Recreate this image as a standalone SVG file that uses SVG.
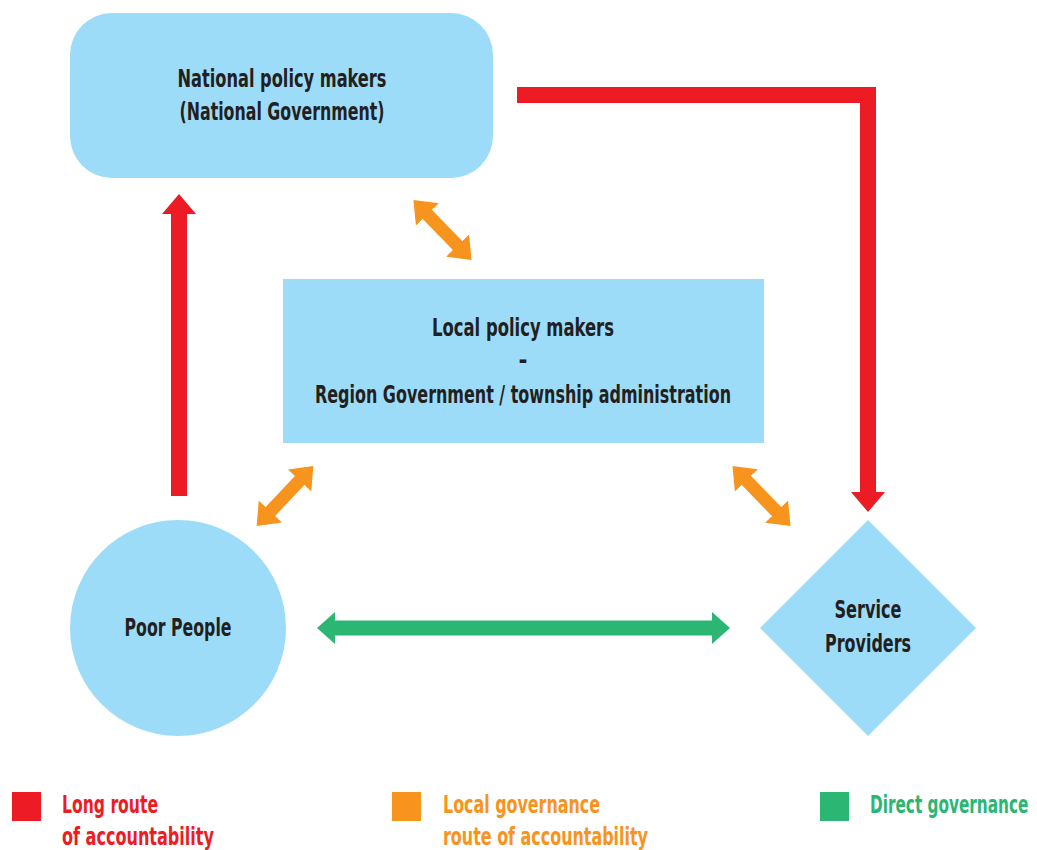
<svg xmlns="http://www.w3.org/2000/svg" width="1037" height="850" viewBox="0 0 1037 850">
<style>
.node{fill:#9ddcf8}
.t{font-family:"DejaVu Sans Condensed","DejaVu Sans","Liberation Sans",sans-serif;font-stretch:condensed;font-weight:bold;font-size:24px;fill:#231f20}
.lg{font-family:"DejaVu Sans Condensed","DejaVu Sans","Liberation Sans",sans-serif;font-stretch:condensed;font-weight:bold;font-size:25px}
.red{stroke:#ed1c24;fill:none}
.org{stroke:#f7941d;fill:none}
.grn{stroke:#2bb673;fill:none}
</style>
<defs>
<marker id="hr" markerUnits="userSpaceOnUse" viewBox="0 0 20 34" refX="2" refY="17" markerWidth="20" markerHeight="34" orient="auto-start-reverse"><path d="M0,0 L20,17 L0,34 Z" fill="#ed1c24"/></marker>
<marker id="ho" markerUnits="userSpaceOnUse" viewBox="0 0 20 32" refX="2" refY="16" markerWidth="20" markerHeight="32" orient="auto-start-reverse"><path d="M0,0 L20,16 L0,32 Z" fill="#f7941d"/></marker>
<marker id="hg" markerUnits="userSpaceOnUse" viewBox="0 0 18 32" refX="2" refY="16" markerWidth="18" markerHeight="32" orient="auto-start-reverse"><path d="M0,0 L18,16 L0,32 Z" fill="#2bb673"/></marker>
</defs>
<g id="national">
<rect class="node" x="70" y="13" width="423" height="165" rx="42"/>
<text class="t" x="282" y="87" text-anchor="middle" textLength="209" lengthAdjust="spacingAndGlyphs">National policy makers</text>
<text class="t" x="282" y="120" text-anchor="middle" textLength="205" lengthAdjust="spacingAndGlyphs">(National Government)</text>
</g>
<g id="local">
<rect class="node" x="283" y="279" width="481" height="164"/>
<text class="t" x="523" y="336" text-anchor="middle" textLength="182" lengthAdjust="spacingAndGlyphs">Local policy makers</text>
<text class="t" x="523" y="368" text-anchor="middle">-</text>
<text class="t" x="523" y="403" text-anchor="middle" textLength="416" lengthAdjust="spacingAndGlyphs">Region Government / township administration</text>
</g>
<g id="poor">
<circle class="node" cx="178" cy="628" r="108"/>
<text class="t" x="178" y="636" text-anchor="middle" textLength="107" lengthAdjust="spacingAndGlyphs">Poor People</text>
</g>
<g id="service">
<polygon class="node" points="868,520 976,628 868,736 760,628"/>
<text class="t" x="868" y="618" text-anchor="middle" textLength="67" lengthAdjust="spacingAndGlyphs">Service</text>
<text class="t" x="868" y="652" text-anchor="middle" textLength="86" lengthAdjust="spacingAndGlyphs">Providers</text>
</g>
<g id="connectors">
<line class="red" x1="179" y1="496" x2="179" y2="212" stroke-width="16" marker-end="url(#hr)"/>
<polyline class="red" points="517,95 868,95 868,494" stroke-width="16" stroke-linejoin="miter" marker-end="url(#hr)"/>
<line class="grn" x1="333" y1="628" x2="714" y2="628" stroke-width="15" marker-start="url(#hg)" marker-end="url(#hg)"/>
<line class="org" x1="426" y1="213" x2="459" y2="247" stroke-width="13" marker-start="url(#ho)" marker-end="url(#ho)"/>
<line class="org" x1="269" y1="513" x2="301" y2="479" stroke-width="13" marker-start="url(#ho)" marker-end="url(#ho)"/>
<line class="org" x1="745" y1="479" x2="778" y2="513" stroke-width="13" marker-start="url(#ho)" marker-end="url(#ho)"/>
</g>
<g id="legend">
<rect x="12" y="792" width="29" height="29" fill="#ed1c24"/>
<text class="lg" x="62" y="813" fill="#ed1c24" textLength="96" lengthAdjust="spacingAndGlyphs">Long route</text>
<text class="lg" x="62" y="845" fill="#ed1c24" textLength="152" lengthAdjust="spacingAndGlyphs">of accountability</text>
<rect x="392" y="792" width="29" height="29" fill="#f7941d"/>
<text class="lg" x="443" y="813" fill="#f7941d" textLength="157" lengthAdjust="spacingAndGlyphs">Local governance</text>
<text class="lg" x="443" y="845" fill="#f7941d" textLength="205" lengthAdjust="spacingAndGlyphs">route of accountability</text>
<rect x="820" y="792" width="29" height="29" fill="#2bb673"/>
<text class="lg" transform="translate(870 813) scale(0.68 1)" x="0" y="0" fill="#2bb673">Direct governance</text>
</g>
</svg>
